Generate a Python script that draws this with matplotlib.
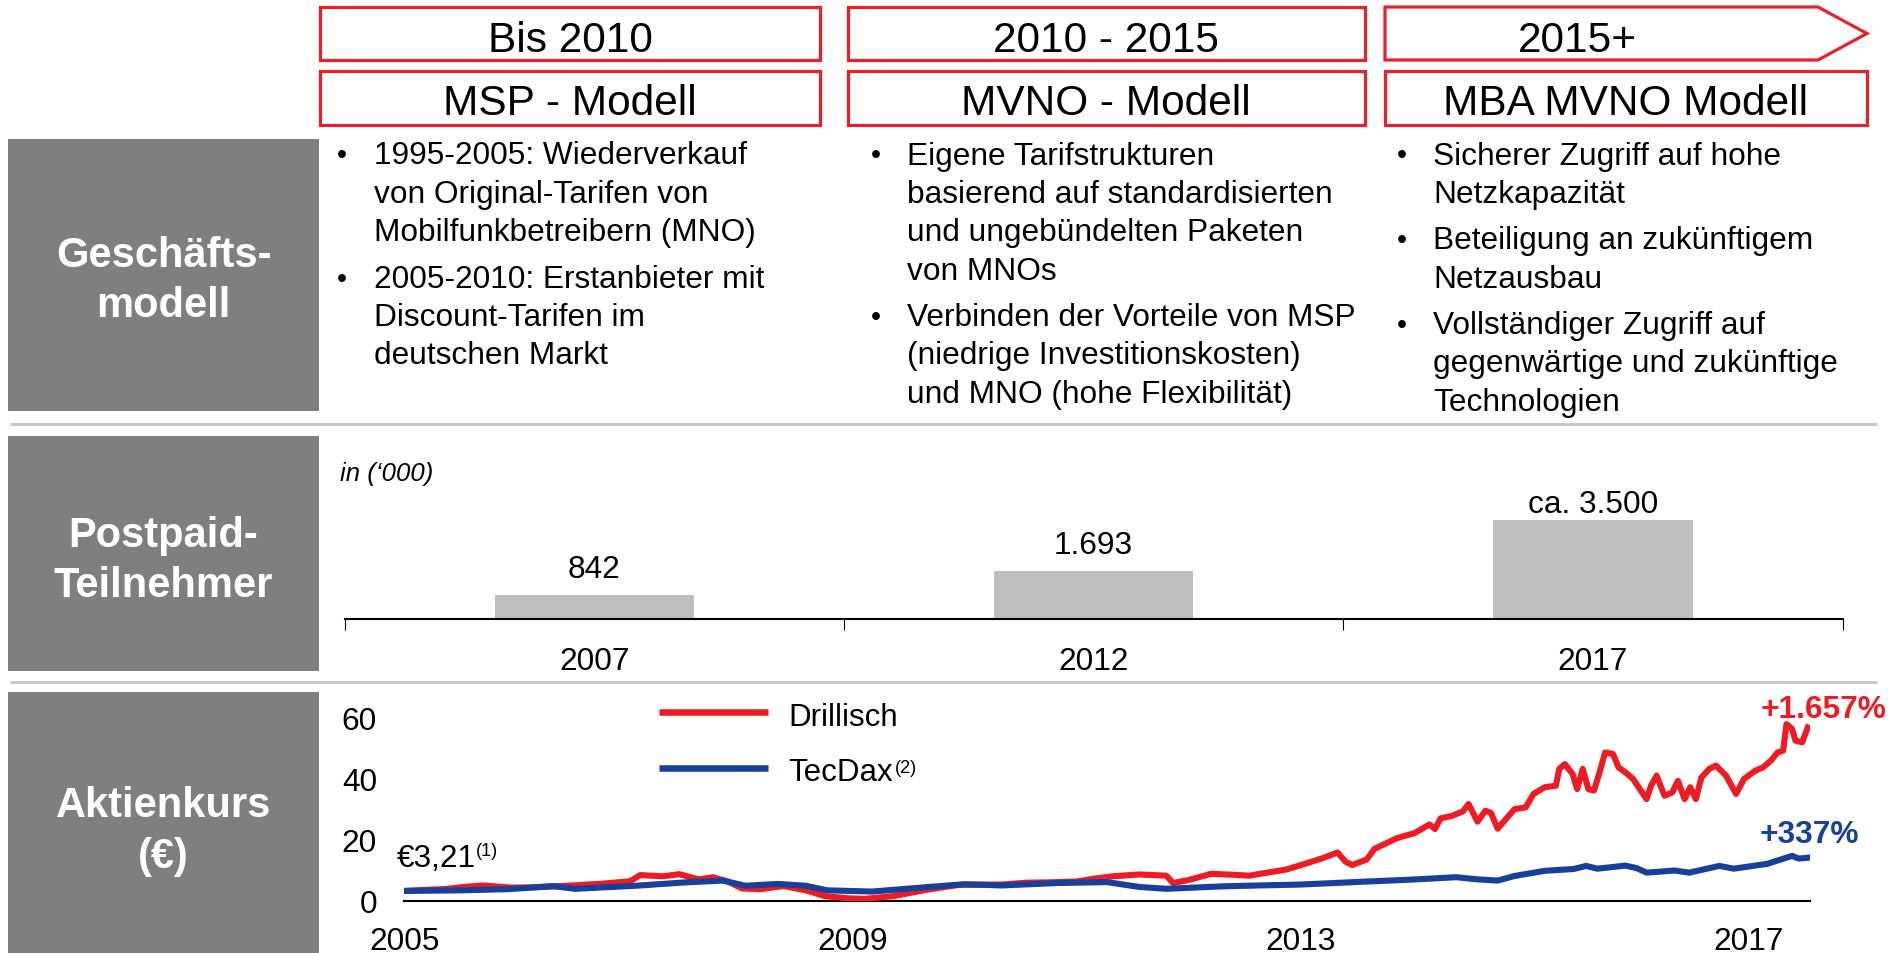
import matplotlib
matplotlib.use("Agg")
from matplotlib import pyplot as plt
from matplotlib.patches import Rectangle, Polygon

FONT = ['Liberation Sans', 'DejaVu Sans']
plt.rcParams['font.family'] = FONT

RED = '#E8202A'
LINE_RED = '#ED1C24'
BLUE = '#18409A'
GREY_BOX = '#7F7F7F'
SEP = '#C8C8C8'

# ---- data ----
phase_titles = ['Bis 2010', '2010 - 2015', '2015+']
model_titles = ['MSP - Modell', 'MVNO - Modell', 'MBA MVNO Modell']
row_labels = ['Geschäfts-\nmodell', 'Postpaid-\nTeilnehmer', 'Aktienkurs\n(€)']

bullets_msp = [
    ['1995-2005: Wiederverkauf', 'von Original-Tarifen von', 'Mobilfunkbetreibern (MNO)'],
    ['2005-2010: Erstanbieter mit', 'Discount-Tarifen im', 'deutschen Markt'],
]
bullets_mvno = [
    ['Eigene Tarifstrukturen', 'basierend auf standardisierten', 'und ungebündelten Paketen', 'von MNOs'],
    ['Verbinden der Vorteile von MSP', '(niedrige Investitionskosten)', 'und MNO (hohe Flexibilität)'],
]
bullets_mba = [
    ['Sicherer Zugriff auf hohe', 'Netzkapazität'],
    ['Beteiligung an zukünftigem', 'Netzausbau'],
    ['Vollständiger Zugriff auf', 'gegenwärtige und zukünftige', 'Technologien'],
]

sub_years = ['2007', '2012', '2017']
sub_values = [842, 1693, 3500]
sub_labels = ['842', '1.693', 'ca. 3.500']

drillisch_t = [2005.00, 2005.20, 2005.35, 2005.55, 2005.69, 2005.95, 2006.18, 2006.50, 2006.77, 2007.01, 2007.10, 2007.30,
               2007.45, 2007.62, 2007.75, 2007.89, 2008.01, 2008.18, 2008.38, 2008.58, 2008.75, 2008.95,
               2009.11, 2009.36, 2009.66, 2009.95, 2010.33, 2010.55, 2010.73, 2011.00, 2011.15, 2011.32, 2011.56, 2011.80,
               2011.86, 2012.00, 2012.20, 2012.40, 2012.54, 2012.70, 2012.87, 2013.03, 2013.20, 2013.33,
               2013.40, 2013.46, 2013.59, 2013.66, 2013.86, 2014.02, 2014.15, 2014.20, 2014.25, 2014.35,
               2014.45, 2014.50, 2014.58, 2014.65, 2014.70, 2014.76, 2014.82, 2014.91, 2015.01, 2015.08,
               2015.18, 2015.28, 2015.31, 2015.36, 2015.43, 2015.47, 2015.52, 2015.57, 2015.62, 2015.67,
               2015.72, 2015.79, 2015.84, 2015.90, 2015.97, 2016.03, 2016.09, 2016.13, 2016.18, 2016.25,
               2016.32, 2016.37, 2016.43, 2016.48, 2016.53, 2016.58, 2016.65, 2016.71, 2016.80, 2016.84,
               2016.89, 2016.96, 2017.06, 2017.13, 2017.20, 2017.26, 2017.31, 2017.34, 2017.39, 2017.42,
               2017.48, 2017.53]
drillisch_v = [3.2, 3.6, 3.8, 4.6, 5.0, 4.3, 4.4, 5.0, 5.6, 6.4, 8.4, 8.0,
               8.7, 7.0, 7.7, 6.2, 4.0, 3.8, 4.8, 3.4, 1.5, 0.8,
               0.6, 1.5, 3.6, 5.2, 5.3, 5.9, 6.0, 6.3, 7.2, 8.0, 8.6, 8.2,
               5.8, 6.8, 8.8, 8.5, 8.2, 9.2, 10.2, 12.0, 14.0, 15.8,
               12.8, 11.7, 13.5, 17.0, 20.5, 22.2, 25.0, 23.5, 27.0, 27.8,
               29.3, 31.7, 25.9, 29.5, 28.8, 23.6, 26.2, 30.0, 30.6, 35.0,
               37.2, 37.7, 43.2, 44.8, 41.5, 36.6, 43.2, 36.6, 36.1, 42.1,
               48.6, 48.1, 43.7, 42.1, 39.9, 36.6, 33.3, 37.7, 41.0, 34.4,
               35.5, 39.3, 33.3, 37.2, 33.3, 40.4, 43.2, 44.3, 41.0, 38.3,
               35.0, 39.9, 42.6, 43.7, 45.9, 48.6, 49.2, 57.9, 56.3, 52.5,
               51.9, 56.8]

tecdax_t = [2005.00, 2005.50, 2005.93, 2006.32, 2006.52, 2007.06, 2007.50, 2007.84, 2008.04, 2008.33,
            2008.58, 2008.77, 2009.17, 2009.61, 2010.00, 2010.33, 2010.83, 2011.27, 2011.56, 2011.80,
            2012.30, 2012.63, 2013.00, 2013.54, 2013.98, 2014.39, 2014.58, 2014.76, 2014.91, 2015.18,
            2015.44, 2015.55, 2015.65, 2015.90, 2016.00, 2016.09, 2016.34, 2016.47, 2016.74, 2016.87,
            2017.17, 2017.39, 2017.45, 2017.53]
tecdax_v = [3.2, 3.4, 3.8, 4.8, 3.9, 4.9, 6.0, 6.6, 4.9, 5.5,
            4.9, 3.4, 3.0, 4.3, 5.4, 5.0, 5.8, 6.1, 4.5, 3.9,
            4.7, 5.0, 5.3, 6.2, 6.9, 7.7, 7.0, 6.6, 8.1, 9.8,
            10.4, 11.4, 10.5, 11.5, 10.7, 9.2, 9.9, 9.2, 11.4, 10.5,
            12.1, 14.7, 13.8, 14.1]

W, H = 1897, 954
fig = plt.figure(figsize=(W / 100, H / 100), dpi=100)

# background layer in pixel coordinates
bg = fig.add_axes([0, 0, 1, 1], zorder=0)
bg.set_xlim(0, W)
bg.set_ylim(H, 0)
bg.axis('off')

# header boxes
cols = [(320, 820), (848, 1365), (1385, 1867)]
for i, (x0, x1) in enumerate(cols):
    if i < 2:
        bg.add_patch(Rectangle((x0, 8), x1 - x0, 53, fc='white', ec=RED, lw=2.3))
    else:
        bg.add_patch(Polygon([(x0, 8), (1818, 8), (x1, 34.5), (1818, 61), (x0, 61)],
                             closed=True, fc='white', ec=RED, lw=2.3))
    bg.add_patch(Rectangle((x0, 72), x1 - x0, 54, fc='white', ec=RED, lw=2.3))
title_x = [570, 1106, 1577]
model_x = [570, 1106, 1626]
for t, x in zip(phase_titles, title_x):
    bg.text(x, 51.7, t, ha='center', va='baseline', fontsize=30.5)
for t, x in zip(model_titles, model_x):
    bg.text(x, 115, t, ha='center', va='baseline', fontsize=30.5)

# left grey label boxes
boxes = [(140, 412), (437, 672), (693, 960)]
label_base = [(266.7, 316.7), (547, 597), (817.5, 868)]
for (y0, y1), lab, bases in zip(boxes, row_labels, label_base):
    bg.add_patch(Rectangle((8, y0), 311, y1 - y0, fc=GREY_BOX, ec='none'))
    for line, yb in zip(lab.split('\n'), bases):
        bg.text(163.5, yb, line, ha='center', va='baseline', fontsize=30,
                fontweight='bold', color='white')

# separators
for y in [425, 683]:
    bg.plot([10, 1877], [y, y], color=SEP, lw=2.2, solid_capstyle='butt')

# bullet columns
def bullet_block(groups, xb, xt):
    y = 164.5
    for g in groups:
        bg.text(xb, y - 1, '•', ha='center', va='baseline', fontsize=20.5)
        for line in g:
            bg.text(xt, y, line, ha='left', va='baseline', fontsize=22.8)
            y += 38.4
        y += 8

bullet_block(bullets_msp, 342, 374)
bullet_block(bullets_mvno, 876, 907)
bullet_block(bullets_mba, 1401.5, 1433)

# ---- postpaid subscribers bar chart ----
bx0, bx1, by0, by1 = 344.8, 1842.5, 619.5, 470
axb = fig.add_axes([bx0 / W, 1 - by0 / H, (bx1 - bx0) / W, (by0 - by1) / H], zorder=1)
axb.patch.set_alpha(0)
px_per_unit = (619.5 - 521) / 3500
axb.set_ylim(0, (by0 - by1) / px_per_unit)
axb.set_xlim(-0.5, 2.5)
xs = range(len(sub_values))
axb.bar(xs, sub_values, width=0.4, color='#BFBFBF')
offsets = [13, 13, 5.8]
for x, v, lab, off in zip(xs, sub_values, sub_labels, offsets):
    axb.annotate(lab, (x, v), xytext=(0, off), textcoords='offset points',
                 ha='center', va='baseline', fontsize=22.8)
for s in ['top', 'right', 'left']:
    axb.spines[s].set_visible(False)
axb.spines['bottom'].set_linewidth(1.5)
axb.set_yticks([])
axb.set_xticks(list(xs))
axb.set_xticklabels(sub_years, fontsize=22.8)
axb.tick_params(axis='x', which='major', length=0, pad=19.5)
axb.set_xticks([-0.5, 0.5, 1.5, 2.5], minor=True)
axb.tick_params(axis='x', which='minor', length=8, width=0.8, direction='out')
bg.text(340, 481, 'in (‘000)', ha='left', va='baseline', fontsize=18.5, style='italic')

# ---- share price line chart ----
lx0, lx1, ly0, ly1 = 404, 1810, 901.7, 700
axl = fig.add_axes([lx0 / W, 1 - ly0 / H, (lx1 - lx0) / W, (ly0 - ly1) / H], zorder=1)
axl.patch.set_alpha(0)
axl.plot(drillisch_t, drillisch_v, color=LINE_RED, lw=4.4, solid_joinstyle='round')
axl.plot(tecdax_t, tecdax_v, color=BLUE, lw=4.4, solid_joinstyle='round')
axl.set_xlim(2004.99, 2017.55)
axl.set_ylim(0, (ly0 - ly1) / 3.05)
for s in ['top', 'right', 'left']:
    axl.spines[s].set_visible(False)
axl.spines['bottom'].set_linewidth(1.5)
axl.spines['bottom'].set_zorder(0)
axl.set_yticks([0, 20, 40, 60])
axl.set_xticks([2005, 2009, 2013, 2017])
axl.set_xticklabels(['2005', '2009', '2013', '2017'])
axl.tick_params(axis='y', length=0, pad=19.5, labelsize=22.8)
axl.tick_params(axis='x', length=0, pad=18, labelsize=22.8)

# legend
bg.plot([659, 768], [713.3, 713.3], color=LINE_RED, lw=4.7, solid_capstyle='butt')
bg.plot([659, 768], [769.3, 769.3], color=BLUE, lw=4.7, solid_capstyle='butt')
bg.text(788, 725.7, 'Drillisch', ha='left', va='baseline', fontsize=22.5)
bg.text(788, 781, 'TecDax', ha='left', va='baseline', fontsize=22.5)
bg.text(895, 773, '(2)', ha='left', va='baseline', fontsize=13)

bg.text(397, 866.7, '€3,21', ha='left', va='baseline', fontsize=22.7)
bg.text(476, 856, '(1)', ha='left', va='baseline', fontsize=13)
bg.text(1886, 718, '+1.657%', ha='right', va='baseline', fontsize=22.8,
        fontweight='bold', color=LINE_RED)
bg.text(1859, 843, '+337%', ha='right', va='baseline', fontsize=22.8,
        fontweight='bold', color=BLUE)

fig.savefig('out.png', dpi=100)
